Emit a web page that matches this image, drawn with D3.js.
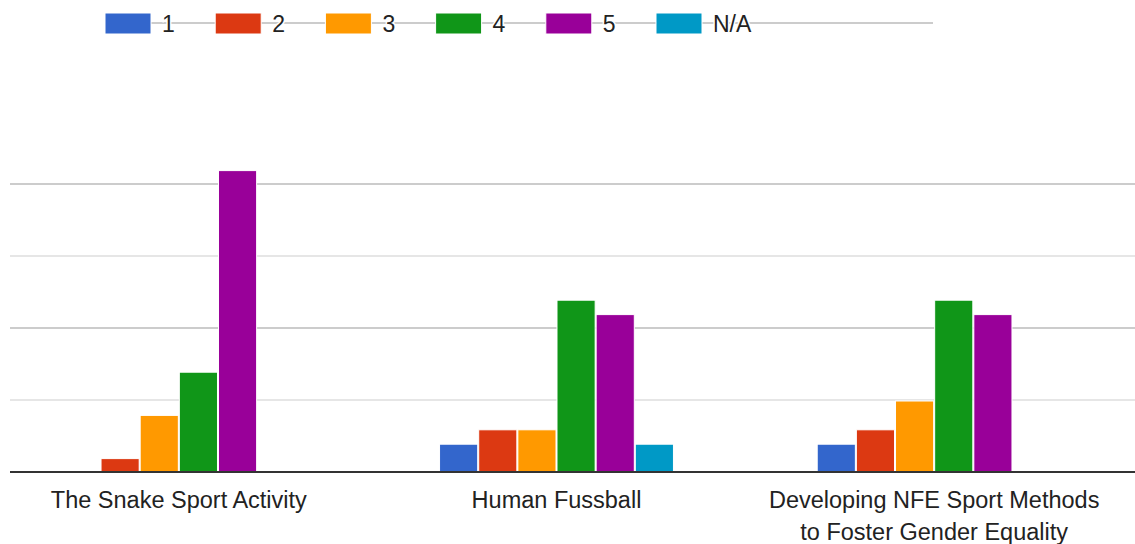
<!doctype html>
<html>
<head>
<script src="https://cdnjs.cloudflare.com/ajax/libs/d3/7.8.5/d3.min.js"></script>
<style>
  body { margin: 0; background: #fff; }
  text { font-family: "Liberation Sans", Arial, sans-serif; fill: #222; }
</style>
</head>
<body>
<svg id="chart" width="1135" height="544"></svg>
<script>
// data (responses per rating)
var activities = ["The Snake Sport Activity", "Human Fussball", "Developing NFE Sport Methods to Foster Gender Equality"];
var labelLines = [["The Snake Sport Activity"], ["Human Fussball"], ["Developing NFE Sport Methods", "to Foster Gender Equality"]];
var ratings = ["1", "2", "3", "4", "5", "N/A"];
var snake    = [0, 1, 4, 7, 21, 0];
var fussball = [2, 3, 3, 12, 11, 2];
var nfe      = [2, 3, 5, 12, 11, 0];
var gridTicks = [5, 10, 15, 20];
var colors = ["#3366cc", "#dc3912", "#ff9900", "#109618", "#990099", "#0099c6"];

var rows = [snake, fussball, nfe].map(function(vals, i) {
  return { name: activities[i], lines: labelLines[i], vals: vals };
});

var svg = d3.select("#chart");

var x0 = d3.scaleBand().domain(activities).range([-10, 1123])
  .paddingInner(0.378).paddingOuter(0.189);
var x1 = d3.scaleBand().domain(ratings).range([0, x0.bandwidth()]);
var y = d3.scaleLinear().domain([0, 25]).range([472, 112]);
var color = d3.scaleOrdinal().domain(ratings).range(colors);

// gridlines (major at 10, 20 darker)
svg.append("g").selectAll("line")
  .data(gridTicks).enter().append("line")
  .attr("x1", 10).attr("x2", 1135)
  .attr("y1", d => y(d)).attr("y2", d => y(d))
  .attr("stroke", d => d % 10 == 0 ? "#cccccc" : "#e6e6e6")
  .attr("stroke-width", 2);

// bars
var groups = svg.append("g").selectAll("g")
  .data(rows).enter().append("g")
  .attr("transform", d => "translate(" + x0(d.name) + ",0)");

groups.selectAll("rect")
  .data(d => d.vals.map((v, i) => ({ key: ratings[i], v: v })).filter(e => e.v > 0))
  .enter().append("rect")
  .attr("x", d => x1(d.key) + 0.5)
  .attr("width", x1.bandwidth() - 1)
  .attr("y", d => y(d.v) + 1)
  .attr("height", d => y(0) - y(d.v) - 1)
  .attr("fill", d => color(d.key))
  .attr("stroke", "#fff")
  .attr("stroke-width", 1);

// baseline
svg.append("line")
  .attr("x1", 10).attr("x2", 1135)
  .attr("y1", y(0)).attr("y2", y(0))
  .attr("stroke", "#333").attr("stroke-width", 2);

// category labels
var lab = svg.append("g").selectAll("text")
  .data(rows).enter().append("text")
  .attr("text-anchor", "middle")
  .style("font-size", "23.5px")
  .attr("x", d => x0(d.name) + x0.bandwidth() / 2)
  .attr("y", 508);
lab.selectAll("tspan")
  .data(d => d.lines).enter().append("tspan")
  .attr("x", function() { return this.parentNode.getAttribute("x"); })
  .attr("dy", (d, i) => i == 0 ? 0 : 32)
  .text(d => d);

// legend
var legX = d3.scalePoint().domain(ratings).range([105, 656]);
var legend = svg.append("g");
legend.append("line")
  .attr("x1", 151).attr("x2", 933)
  .attr("y1", 23).attr("y2", 23)
  .attr("stroke", "#cccccc").attr("stroke-width", 2);
var item = legend.selectAll("g")
  .data(ratings).enter().append("g")
  .attr("transform", d => "translate(" + legX(d) + ",0)");
item.append("rect")
  .attr("x", 0).attr("y", 13)
  .attr("width", 46).attr("height", 21)
  .attr("fill", d => color(d))
  .attr("stroke", "#fff").attr("stroke-width", 1);
item.append("text")
  .attr("x", 57).attr("y", 32)
  .style("font-size", "23px")
  .attr("stroke", "#fff").attr("stroke-width", 3)
  .attr("paint-order", "stroke")
  .text(d => d);
</script>
</body>
</html>
